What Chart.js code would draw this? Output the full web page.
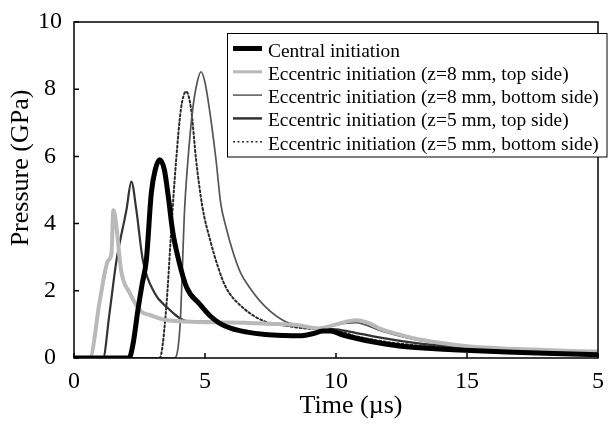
<!DOCTYPE html>
<html>
<head>
<meta charset="utf-8">
<script src="https://cdn.jsdelivr.net/npm/chart.js@4.4.1/dist/chart.umd.min.js"></script>
<style>
  body { margin: 0; background: #fff; }
  #pressureChart { display: block; }
</style>
</head>
<body>
<canvas id="pressureChart" width="608" height="425"></canvas>
<script>
// Series names (legend order)
const seriesLabels = [
    'Central initiation',
    'Eccentric initiation (z=8 mm, top side)',
    'Eccentric initiation (z=8 mm, bottom side)',
    'Eccentric initiation (z=5 mm, top side)',
    'Eccentric initiation (z=5 mm, bottom side)'
];

// Axis ticks as printed on the figure
const xTickValues = [0, 5, 10, 15, 20];
const xTickLabels = ['0', '5', '10', '15', '5'];
const yTickValues = [0, 2, 4, 6, 8, 10];

// Central initiation: time (us) / pressure (GPa)
const timeCentral = [0, 2.1, 2.25, 2.44, 2.6, 2.76, 2.95, 3.1, 3.27, 3.45, 3.6, 3.76, 4.0, 4.3, 4.8, 5.2, 5.55, 6.0, 6.6, 7.3, 8.0, 8.6, 9.1, 9.5, 9.8, 10.2, 10.8, 11.5, 12.4, 13.5, 14.9, 16.5, 18.0, 20.0];
const pressCentral = [0, 0, 0.4, 1.43, 2.2, 2.9, 4.9, 5.6, 5.9, 5.6, 4.8, 3.8, 2.9, 2.1, 1.6, 1.25, 1.04, 0.88, 0.77, 0.7, 0.67, 0.66, 0.72, 0.8, 0.8, 0.7, 0.58, 0.47, 0.36, 0.29, 0.23, 0.18, 0.14, 0.1];

// Eccentric z=8 mm, top side
const timeZ8Top = [0, 0.6, 0.99, 1.3, 1.43, 1.5, 1.55, 1.62, 1.8, 2.13, 2.57, 2.9, 3.52, 4.5, 5.5, 6.5, 7.5, 8.5, 9.35, 10.0, 10.75, 11.2, 11.75, 12.4, 13.0, 13.9, 14.9, 16.0, 17.5, 19.0, 20.0];
const pressZ8Top = [0, 0, 1.73, 2.9, 3.1, 4.4, 4.3, 3.9, 2.6, 1.93, 1.38, 1.28, 1.13, 1.08, 1.06, 1.05, 1.02, 0.98, 0.88, 1.0, 1.12, 1.05, 0.85, 0.7, 0.58, 0.46, 0.36, 0.3, 0.25, 0.21, 0.19];

// Eccentric z=8 mm, bottom side
const timeZ8Bottom = [0, 3.84, 4.05, 4.22, 4.35, 4.53, 4.7, 4.85, 5.0, 5.17, 5.42, 5.6, 5.8, 6.05, 6.35, 6.7, 7.3, 8.08, 8.6, 9.35, 10.0, 10.75, 11.75, 13.0, 14.3, 15.5, 17.0, 18.5, 20.0];
const pressZ8Bottom = [0, 0, 1.0, 4.4, 5.9, 7.4, 8.2, 8.52, 8.2, 7.4, 5.9, 4.6, 3.9, 3.2, 2.55, 2.1, 1.53, 1.08, 0.98, 0.9, 1.0, 1.05, 0.8, 0.55, 0.38, 0.3, 0.25, 0.21, 0.18];

// Eccentric z=5 mm, top side
const timeZ5Top = [0, 1.11, 1.35, 1.62, 2.0, 2.19, 2.38, 2.63, 3.08, 3.52, 4.3, 5.0, 6.0, 7.0, 8.0, 8.6, 9.35, 10.0, 10.75, 11.75, 13.0, 14.3, 15.5, 17.0, 18.5, 20.0];
const pressZ5Top = [0, 0, 1.3, 2.9, 4.4, 5.25, 4.4, 2.9, 1.93, 1.53, 1.1, 1.08, 1.06, 1.03, 0.98, 0.95, 0.88, 0.85, 0.75, 0.6, 0.45, 0.34, 0.27, 0.22, 0.18, 0.15];

// Eccentric z=5 mm, bottom side
const timeZ5Bottom = [0, 3.27, 3.5, 3.76, 3.9, 4.08, 4.28, 4.47, 4.66, 4.9, 5.2, 5.5, 5.8, 6.4, 7.3, 7.95, 8.6, 9.35, 10.0, 10.75, 11.75, 13.0, 14.3, 15.5, 17.0, 18.5, 20.0];
const pressZ5Bottom = [0, 0, 1.3, 4.4, 5.9, 7.4, 7.93, 7.4, 5.9, 4.5, 3.5, 2.7, 2.1, 1.53, 1.08, 0.98, 0.9, 0.85, 0.82, 0.65, 0.5, 0.38, 0.3, 0.24, 0.2, 0.16, 0.12];

const serif = 'Liberation Serif';

// Turn a time array and a pressure array into {x, y} points
function toPoints(times, values) {
    return times.map((t, i) => ({ x: t, y: values[i] }));
}

// Plugin: box frame, inward ticks, axis titles and boxed legend
const figureDecor = {
    id: 'figureDecor',
    afterDraw(chart) {
        const { ctx, chartArea: a, scales } = chart;
        ctx.save();

        // Frame around the plot
        ctx.strokeStyle = '#000';
        ctx.lineWidth = 1.5;
        ctx.strokeRect(a.left, a.top, a.right - a.left, a.bottom - a.top);

        // Inward tick marks
        ctx.beginPath();
        yTickValues.forEach(v => {
            const y = scales.y.getPixelForValue(v);
            ctx.moveTo(a.left, y);
            ctx.lineTo(a.left + 5, y);
        });
        xTickValues.forEach(v => {
            const x = scales.x.getPixelForValue(v);
            ctx.moveTo(x, a.bottom);
            ctx.lineTo(x, a.bottom - 5);
        });
        ctx.stroke();

        // Axis titles
        ctx.fillStyle = '#000';
        ctx.font = '26px "' + serif + '"';
        ctx.textAlign = 'center';
        ctx.textBaseline = 'alphabetic';
        ctx.fillText('Time (\u00b5s)', 351, 413);
        ctx.save();
        ctx.translate(28, 168);
        ctx.rotate(-Math.PI / 2);
        ctx.fillText('Pressure (GPa)', 0, 0);
        ctx.restore();

        // Legend box
        const box = { left: 227.5, top: 33.5, right: 607, bottom: 157 };
        ctx.fillStyle = '#fff';
        ctx.fillRect(box.left, box.top, box.right - box.left, box.bottom - box.top);
        ctx.lineWidth = 1;
        ctx.strokeStyle = '#000';
        ctx.strokeRect(box.left, box.top, box.right - box.left, box.bottom - box.top);

        ctx.font = '19.4px "' + serif + '"';
        ctx.textAlign = 'left';
        chart.data.datasets.forEach((ds, i) => {
            const y = 48.5 + i * 23.3;
            ctx.beginPath();
            ctx.strokeStyle = ds.borderColor;
            ctx.lineWidth = ds.legendWidth;
            ctx.setLineDash(ds.borderDash || []);
            ctx.moveTo(233, y);
            ctx.lineTo(262, y);
            ctx.stroke();
            ctx.setLineDash([]);
            ctx.fillStyle = '#000';
            ctx.fillText(ds.label, 268, y + 8);
        });

        ctx.restore();
    }
};

const ctx = document.getElementById('pressureChart').getContext('2d');

window.pressureChartInstance = new Chart(ctx, {
    type: 'line',
    data: {
        datasets: [{
            label: seriesLabels[0],
            data: toPoints(timeCentral, pressCentral),
            borderColor: '#000000',
            borderWidth: 5,
            legendWidth: 5
        }, {
            label: seriesLabels[1],
            data: toPoints(timeZ8Top, pressZ8Top),
            borderColor: '#b9b9b9',
            borderWidth: 4,
            legendWidth: 3
        }, {
            label: seriesLabels[2],
            data: toPoints(timeZ8Bottom, pressZ8Bottom),
            borderColor: '#555555',
            borderWidth: 1.7,
            legendWidth: 1.5
        }, {
            label: seriesLabels[3],
            data: toPoints(timeZ5Top, pressZ5Top),
            borderColor: '#333333',
            borderWidth: 2.2,
            legendWidth: 2.5
        }, {
            label: seriesLabels[4],
            data: toPoints(timeZ5Bottom, pressZ5Bottom),
            borderColor: '#2a2a2a',
            borderWidth: 2,
            borderDash: [2, 2.5],
            legendWidth: 1.5
        }]
    },
    options: {
        responsive: false,
        animation: false,
        elements: {
            point: { radius: 0 },
            line: { cubicInterpolationMode: 'monotone', borderCapStyle: 'round' }
        },
        layout: {
            padding: { left: 0, top: 22, right: 10, bottom: 0 }
        },
        scales: {
            x: {
                type: 'linear',
                min: 0,
                max: 20,
                grid: { display: false, drawTicks: false },
                border: { display: false },
                afterFit: scale => {
                    scale.height = 67;
                    scale.paddingLeft = 0;
                    scale.paddingRight = 0;
                },
                afterBuildTicks: scale => { scale.ticks = xTickValues.map(v => ({ value: v })); },
                ticks: {
                    padding: 9,
                    color: '#000',
                    font: { family: serif, size: 24 },
                    maxRotation: 0,
                    callback: (value, index) => xTickLabels[index]
                }
            },
            y: {
                min: 0,
                max: 10,
                grid: { display: false, drawTicks: false },
                border: { display: false },
                afterFit: scale => {
                    scale.width = 74;
                    scale.paddingTop = 0;
                    scale.paddingBottom = 0;
                },
                afterBuildTicks: scale => { scale.ticks = yTickValues.map(v => ({ value: v })); },
                ticks: {
                    padding: 12,
                    crossAlign: 'center',
                    color: '#000',
                    font: { family: serif, size: 24 }
                }
            }
        },
        plugins: {
            legend: { display: false },
            tooltip: { enabled: false }
        }
    },
    plugins: [figureDecor]
});
</script>
</body>
</html>
